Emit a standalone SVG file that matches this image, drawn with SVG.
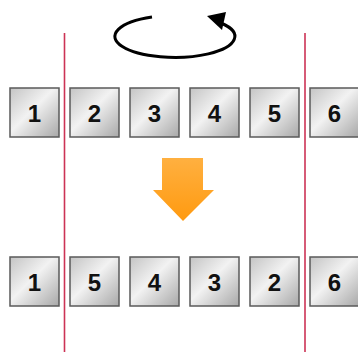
<svg xmlns="http://www.w3.org/2000/svg" width="358" height="354" viewBox="0 0 358 354">
<defs>
<linearGradient id="bg" x1="0" y1="0" x2="1" y2="1">
<stop offset="0" stop-color="#c4c4c4"/>
<stop offset="0.45" stop-color="#f2f2f2"/>
<stop offset="1" stop-color="#a8a8a8"/>
</linearGradient>
<linearGradient id="og" x1="0" y1="0" x2="0" y2="1">
<stop offset="0" stop-color="#ffb040"/>
<stop offset="1" stop-color="#ff9a10"/>
</linearGradient>
</defs>
<style>
.box rect{fill:url(#bg);stroke:#5a5a5a;stroke-width:1.5}
.box text{font-family:"Liberation Sans",Arial,sans-serif;font-weight:bold;font-size:24px;fill:#111;text-anchor:middle}
.red{stroke:#cc3355;stroke-width:1.6}
</style>
<rect width="358" height="354" fill="#fff"/>
<g id="rotation">
<path d="M152,17 A60,21 0 1,0 221,23" fill="none" stroke="#000" stroke-width="3"/>
<polygon points="207,16 226,12 222,30" fill="#000"/>
</g>
<g id="connectors">
<line class="red" x1="64.5" y1="33" x2="64.5" y2="352"/>
<line class="red" x1="305" y1="33" x2="305" y2="352"/>
</g>
<g id="arrow">
<polygon points="162,158 203,158 203,190 214,190 183,221 153,190 162,190" fill="url(#og)"/>
</g>
<g id="top-row">
<g id="t1" class="box"><rect x="10" y="88" width="49" height="49"/><text x="34.5" y="122">1</text></g>
<g id="t2" class="box"><rect x="70" y="88" width="49" height="49"/><text x="94.5" y="122">2</text></g>
<g id="t3" class="box"><rect x="130" y="88" width="49" height="49"/><text x="154.5" y="122">3</text></g>
<g id="t4" class="box"><rect x="190" y="88" width="49" height="49"/><text x="214.5" y="122">4</text></g>
<g id="t5" class="box"><rect x="250" y="88" width="49" height="49"/><text x="274.5" y="122">5</text></g>
<g id="t6" class="box"><rect x="310" y="88" width="49" height="49"/><text x="334.5" y="122">6</text></g>
</g>
<g id="bottom-row">
<g id="b1" class="box"><rect x="10" y="257" width="49" height="49"/><text x="34.5" y="291">1</text></g>
<g id="b2" class="box"><rect x="70" y="257" width="49" height="49"/><text x="94.5" y="291">5</text></g>
<g id="b3" class="box"><rect x="130" y="257" width="49" height="49"/><text x="154.5" y="291">4</text></g>
<g id="b4" class="box"><rect x="190" y="257" width="49" height="49"/><text x="214.5" y="291">3</text></g>
<g id="b5" class="box"><rect x="250" y="257" width="49" height="49"/><text x="274.5" y="291">2</text></g>
<g id="b6" class="box"><rect x="310" y="257" width="49" height="49"/><text x="334.5" y="291">6</text></g>
</g>
</svg>
